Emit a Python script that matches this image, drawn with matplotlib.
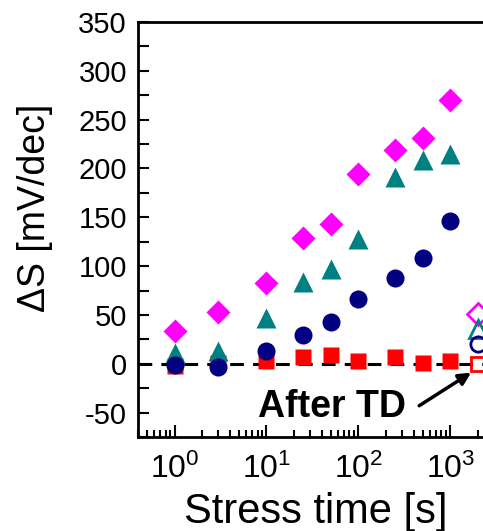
import matplotlib
matplotlib.use("Agg")
import matplotlib.pyplot as plt
from matplotlib.ticker import LogLocator, MultipleLocator, NullFormatter

plt.rcParams['font.family'] = ['Liberation Sans', 'DejaVu Sans']
plt.rcParams['mathtext.fontset'] = 'custom'
plt.rcParams['mathtext.rm'] = 'Liberation Sans'
plt.rcParams['axes.unicode_minus'] = False

stress_time = [1, 3, 10, 25, 50, 100, 250, 500, 1000]
diamond_vals = [34, 53, 83, 129, 143, 194, 219, 231, 270]
triangle_vals = [11, 13, 47, 84, 97, 128, 191, 209, 215]
circle_vals = [-1, -3, 13, 29, 43, 66, 88, 108, 146]
square_vals = [-2, 1, 3, 7, 9, 3, 7, 1, 3]

after_td_time = 2000
after_td_vals = {'diamond': 51, 'triangle': 36, 'circle': 20, 'square': 0}

yticks = [-50, 0, 50, 100, 150, 200, 250, 300, 350]

fig = plt.figure(figsize=(4.83, 5.31), dpi=100)
ax = fig.add_axes([138/483, 1-437/531, 356/483, 415/531])

ax.axhline(0, color='black', lw=2.2, ls=(0, (4.5, 3)), zorder=1)

ax.plot(stress_time, diamond_vals, ls='none', marker='D', ms=12, color='#FF00FF', mec='none', zorder=3)
ax.plot(stress_time, triangle_vals, ls='none', marker='^', ms=15, color='#008080', mec='none', zorder=3)
ax.plot(stress_time, circle_vals, ls='none', marker='o', ms=13, color='#000080', mec='none', zorder=4)
ax.plot(stress_time, square_vals, ls='none', marker='s', ms=11, color='#FF0000', mec='none', zorder=2)

ax.plot([after_td_time], [after_td_vals['diamond']], ls='none', marker='D', ms=11, mfc='none', mec='#FF00FF', mew=2, zorder=3)
ax.plot([after_td_time], [after_td_vals['triangle']], ls='none', marker='^', ms=13, mfc='none', mec='#008080', mew=2, zorder=3)
ax.plot([after_td_time], [after_td_vals['circle']], ls='none', marker='o', ms=11, mfc='none', mec='#000080', mew=2, zorder=3)
ax.plot([after_td_time], [after_td_vals['square']], ls='none', marker='s', ms=10, mfc='none', mec='#FF0000', mew=2, zorder=3)

ax.set_xscale('log')
ax.set_xlim(0.4, 3000)
ax.set_ylim(-75, 350)
ax.set_yticks(yticks)
ax.yaxis.set_minor_locator(MultipleLocator(25))
ax.xaxis.set_major_locator(LogLocator(base=10, numticks=10))
ax.xaxis.set_minor_locator(LogLocator(base=10, subs=range(2, 10), numticks=20))
ax.xaxis.set_minor_formatter(NullFormatter())

for s in ax.spines.values():
    s.set_linewidth(2)
ax.tick_params(which='both', direction='in', width=1.5, top=True, right=True)
ax.tick_params(axis='y', which='both', length=8, labelsize=21, pad=8)
ax.tick_params(axis='x', which='major', length=9, labelsize=23, pad=12)
ax.tick_params(axis='x', which='minor', length=5)
ax.tick_params(axis='x', top=False, which='both')

fig.text(35/483, 1-208/531, 'ΔS [mV/dec]', fontsize=27, rotation=90, ha='center', va='center')
ax.set_xlabel('Stress time [s]', fontsize=30, labelpad=5)

ax.text(51.5, -44.6, 'After TD', fontsize=27, fontweight='bold', ha='center', va='center')
ax.annotate('', xy=(1690, -9), xytext=(460, -43),
            arrowprops=dict(arrowstyle='-|>', color='black', lw=2.5, mutation_scale=18,
                            shrinkA=0, shrinkB=0))

fig.savefig('out.png', dpi=100)
